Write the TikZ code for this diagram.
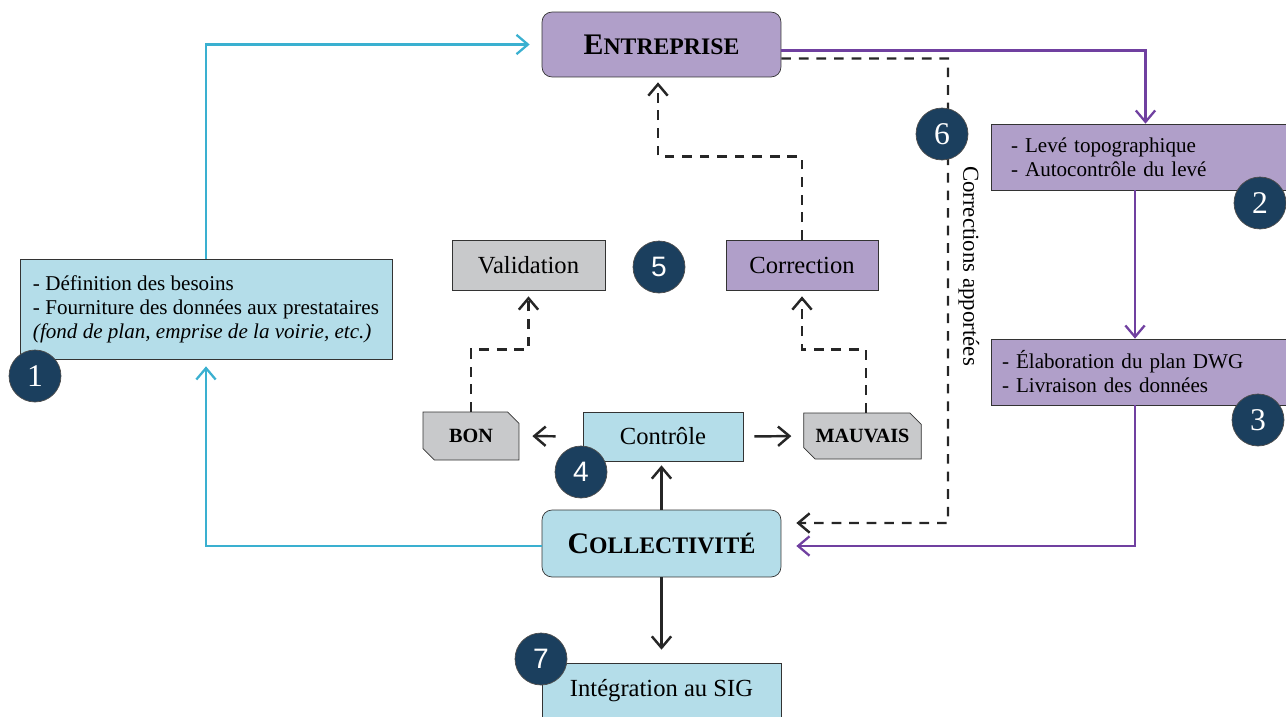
\documentclass[tikz,border=0pt]{standalone}
\usepackage{fontspec}
\setmainfont{Liberation Serif}
\newfontfamily\chiffre{Liberation Sans}
\usetikzlibrary{arrows.meta,shapes.misc}
\definecolor{bleuclair}{HTML}{B4DDE9}
\definecolor{mauve}{HTML}{B09FC9}
\definecolor{grisclair}{HTML}{C8C9CB}
\definecolor{bleutrait}{HTML}{3AB0D0}
\definecolor{violettrait}{HTML}{7040A0}
\definecolor{marine}{HTML}{1B3F5E}
\definecolor{bord}{HTML}{333333}
\newcommand{\grandcap}[2]{{\bfseries\fontsize{17}{20}\selectfont #1\fontsize{13.5}{16}\selectfont #2}}

\begin{document}
\begin{tikzpicture}[x=0.02cm,y=-0.02cm,
    >={Straight Barb[length=6.5pt,width=11pt]},
    acteur/.style={draw=bord,rounded corners=0.2cm,minimum width=4.78cm,minimum height=1.3cm},
    boite/.style={draw=bord,font=\fontsize{14}{16}\selectfont},
    liste/.style={draw=bord,align=left,inner ysep=0pt,font=\fontsize{12}{13.7}\selectfont},
    etiquette/.style={draw=bord,fill=grisclair,chamfered rectangle,chamfered rectangle corners={north east,south west},chamfered rectangle xsep=0.12cm,font=\bfseries\fontsize{11.5}{13}\selectfont},
    numero/.style={circle,fill=marine,draw=black!70,text=white,minimum size=1.04cm,inner sep=0pt,font=\fontsize{18}{18}\selectfont},
    lienbleu/.style={draw=bleutrait,line width=1.3pt,->},
    lienviolet/.style={draw=violettrait,line width=1.3pt,->},
    lienpointille/.style={draw=black!85,dashed,dash pattern=on 5.5pt off 4.5pt,line width=1.4pt,->},
    lien/.style={draw=black!85,line width=1.4pt,->}]
    \useasboundingbox (0,0) rectangle (1286,717);

    \node[acteur,fill=mauve] (ent) at (661.5,44.5) {\grandcap{E}{NTREPRISE}};
    \node[acteur,fill=bleuclair,minimum height=1.34cm] (coll) at (661.5,543.5) {\grandcap{C}{OLLECTIVITÉ}};

    \node[liste,fill=bleuclair,minimum width=7.44cm,minimum height=2cm] (besoins) at (206,309)
        {- Définition des besoins\\- Fourniture des données aux prestataires\\\textit{(fond de plan, emprise de la voirie, etc.)}};
    \node[liste,fill=mauve,text width=5.38cm,inner xsep=0.4cm,minimum height=1.32cm] (leve) at (1145.5,157)
        {- Levé topographique\\- Autocontrôle du levé};
    \node[liste,fill=mauve,text width=5.74cm,inner xsep=0.22cm,minimum height=1.32cm] (plan) at (1145.5,372)
        {- Élaboration du plan DWG\\- Livraison des données};

    \node[boite,fill=grisclair,minimum width=3.06cm,minimum height=1cm] (valid) at (528.5,265) {Validation};
    \node[boite,fill=mauve,minimum width=3.04cm,minimum height=1cm] (corr) at (802,265) {Correction};
    \node[boite,fill=bleuclair,minimum width=3.2cm,minimum height=0.98cm] (ctrl) at (663,436.5) {Contrôle};
    \node[boite,fill=bleuclair,minimum width=4.78cm,minimum height=1.12cm] (sig) at (661.5,691) {Intégration au SIG};

    \node[etiquette,minimum width=1.92cm,minimum height=0.96cm] (bon) at (471,436) {BON};
    \node[etiquette,minimum width=2.34cm,minimum height=0.92cm] (mauv) at (862.5,436) {MAUVAIS};

    \coordinate (coin) at (948,523);
    \node[rotate=-90,font=\fontsize{13}{15}\selectfont] (lblcorr) at (969,266) {Corrections apportées};

    \draw[lienbleu,shorten >=0.24cm] (besoins.north) |- (ent.west);
    \draw[lienbleu,shorten >=0.14cm] ([yshift=-0.05cm]coll.west) -| (besoins.south);
    \draw[lienviolet] ([yshift=-0.12cm]ent.east) -| (leve.north);
    \draw[lienviolet] ([xshift=-0.21cm]leve.south) -- ([xshift=-0.21cm]plan.north);
    \draw[lienviolet,shorten >=0.3cm] ([xshift=-0.21cm]plan.south) |- ([yshift=-0.05cm]coll.east);

    \draw[lienpointille,shorten >=0.3cm] ([yshift=-0.28cm]ent.east) -| (coin) -- ([yshift=0.41cm]coll.east);
    \draw[lienpointille,shorten >=0.1cm] (corr.north) -- ++(0,-83) -| ([xshift=-0.07cm]ent.south);
    \draw[lienpointille,shorten >=0.12cm] (bon.north) -- ++(0,-62) -| (valid.south);
    \draw[lienpointille,shorten >=0.12cm] ([xshift=0.07cm]mauv.north) -- ++(0,-63) -| (corr.south);

    \draw[lien,shorten <=0.54cm,shorten >=0.26cm] (ctrl.west) -- (bon.east);
    \draw[lien,shorten <=0.22cm,shorten >=0.24cm] (ctrl.east) -- (mauv.west);
    \draw[lien,shorten >=0.08cm] (coll.north) -- (coll.north |- ctrl.south);
    \draw[lien,shorten >=0.26cm] (coll.south) -- (sig.north);

    \node[numero] (n1) at (35,376) {1};
    \node[numero] (n2) at (1260,203) {2};
    \node[numero] (n3) at (1258,420) {3};
    \node[numero,font=\chiffre\fontsize{16}{16}\selectfont] (n4) at (581,472) {4};
    \node[numero,font=\chiffre\fontsize{16}{16}\selectfont] (n5) at (659,267) {5};
    \node[numero] (n6) at (942,134) {6};
    \node[numero,font=\chiffre\fontsize{16}{16}\selectfont] (n7) at (541,659) {7};
\end{tikzpicture}
\end{document}
